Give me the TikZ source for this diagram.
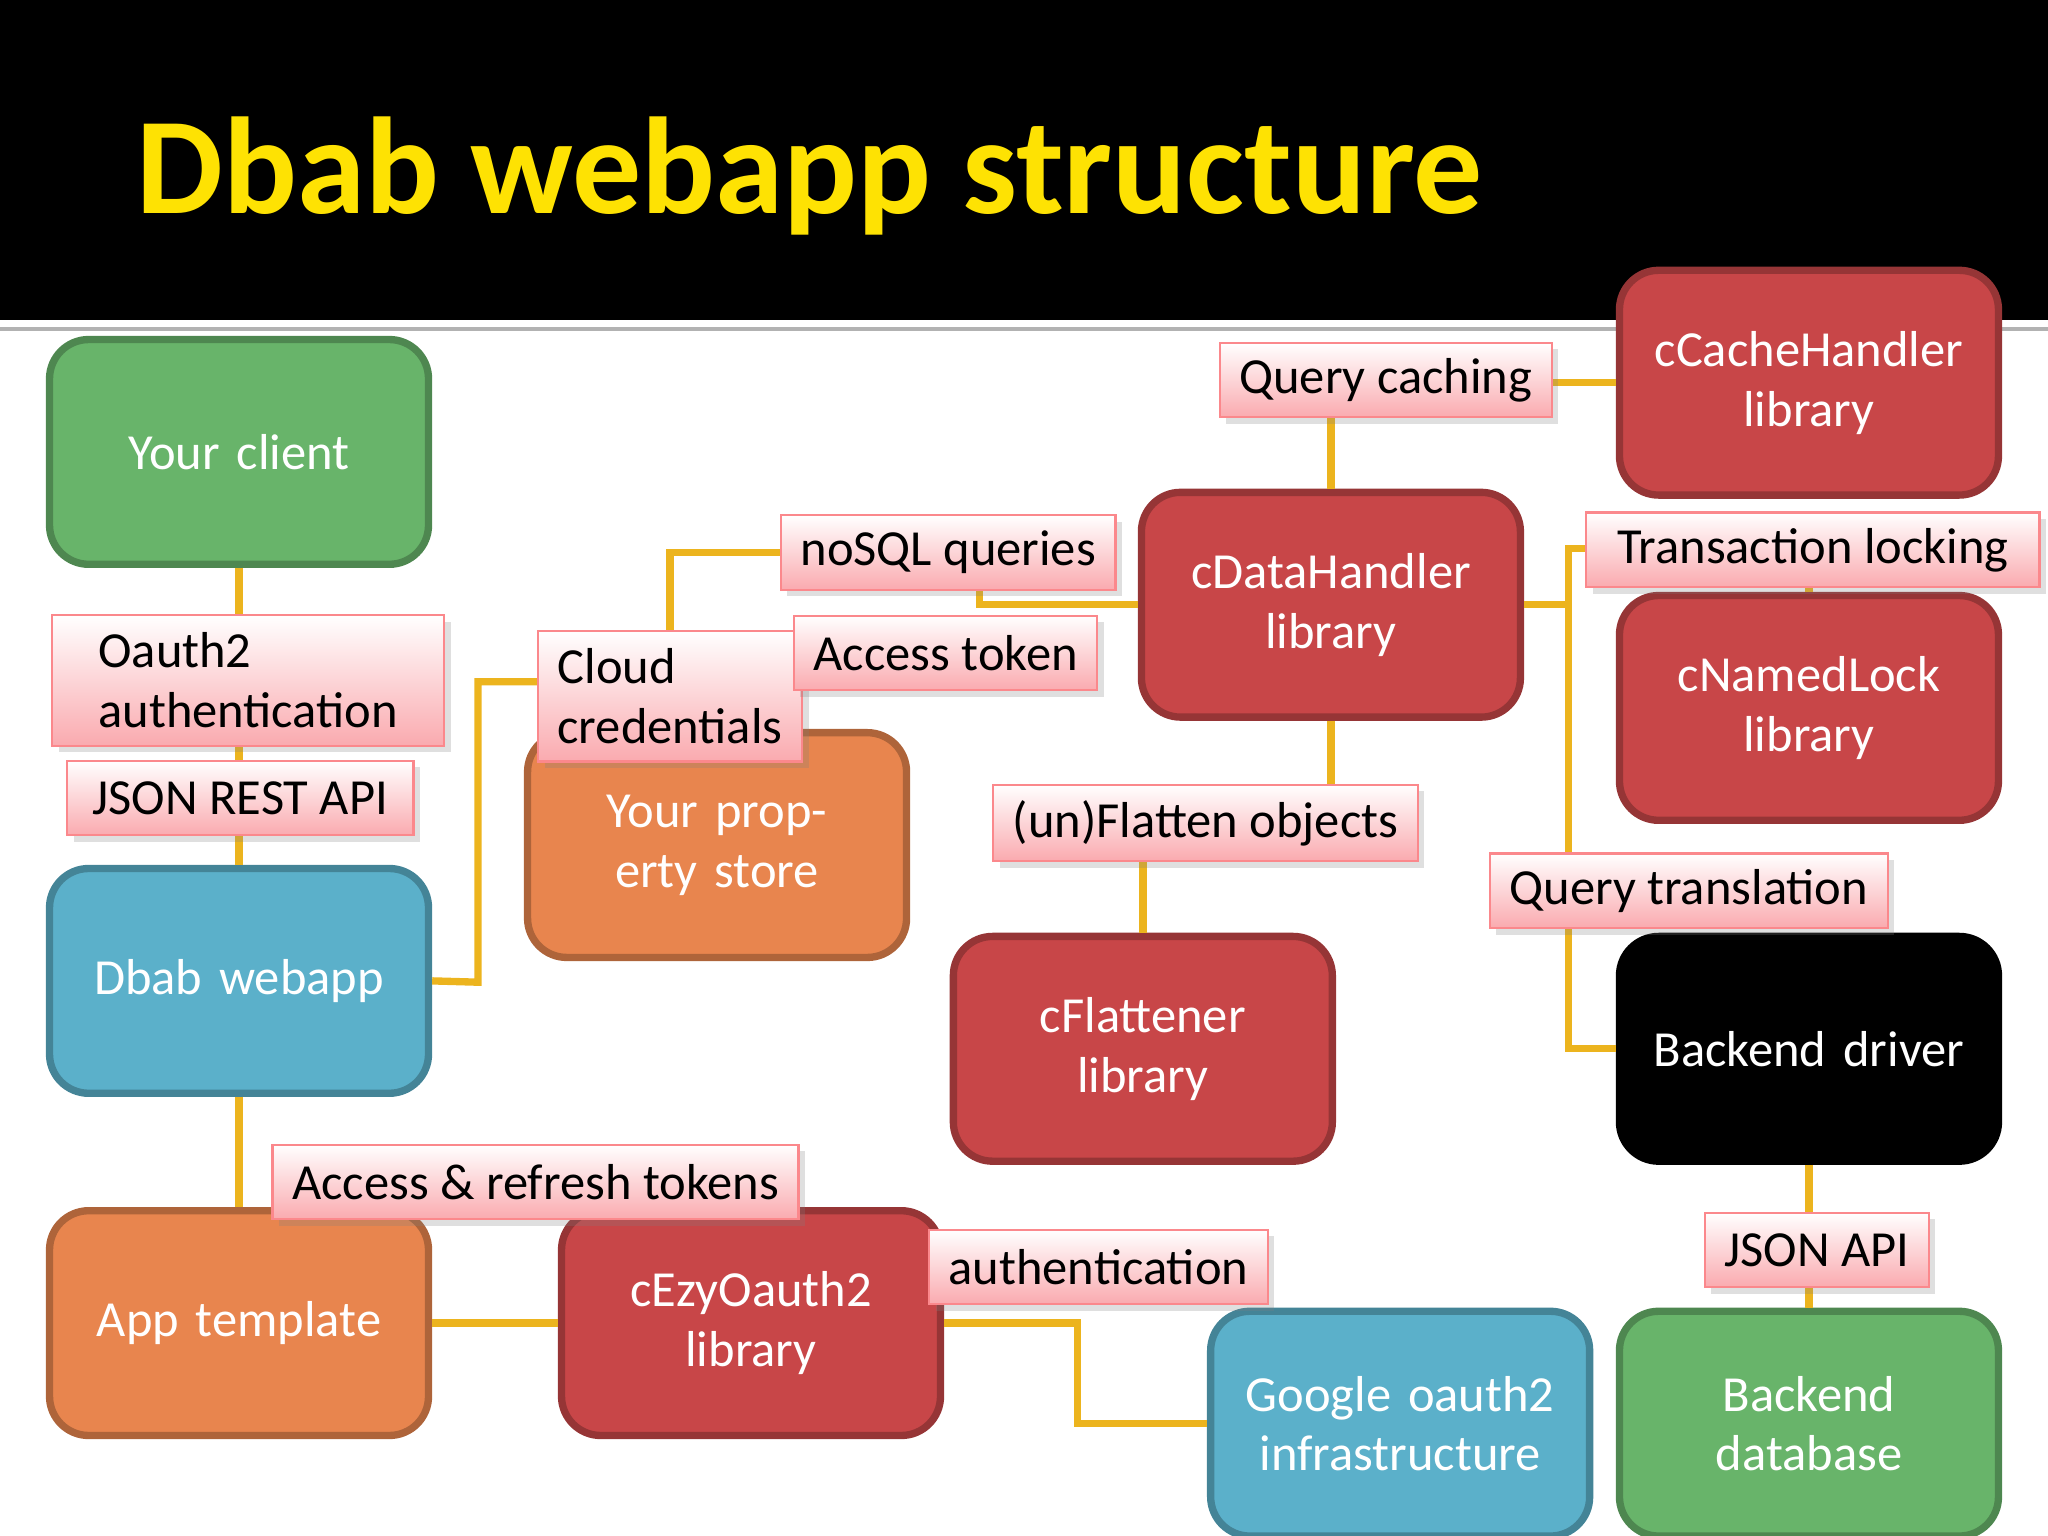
\documentclass[tikz,border=0pt]{standalone}
\usepackage{fontspec}
\setmainfont{Carlito}
\usetikzlibrary{positioning,shadows}
\definecolor{boxred}{RGB}{200,70,72}
\definecolor{boxgreen}{RGB}{104,180,106}
\definecolor{boxblue}{RGB}{91,176,202}
\definecolor{boxorange}{RGB}{232,133,78}
\definecolor{linkgold}{RGB}{236,180,30}
\definecolor{tagpink}{RGB}{250,170,175}
\tikzset{
  block/.style={draw=#1!75!black, fill=#1, line width=1.6pt, rounded corners=0.3cm,
    minimum width=2.9cm, minimum height=1.72cm, text width=2.6cm, align=center,
    text=white, font=\fontsize{11}{13}\selectfont},
  tag/.style={draw=tagpink!80!red, top color=white, bottom color=tagpink, line width=0.5pt,
    drop shadow={opacity=0.25, shadow xshift=0.5mm, shadow yshift=-0.5mm},
    inner xsep=0.15cm, minimum height=0.57cm, align=left, font=\fontsize{11}{13}\selectfont},
  link/.style={draw=linkgold, line width=1.6pt}
}
\begin{document}
\begin{tikzpicture}[x=0.01cm, y=-0.01cm]
\useasboundingbox (0,0) rectangle (1568,1176);
% banner
\fill[black] (0,0) rectangle (1568,245);
\draw[gray!60, line width=1pt] (0,252) -- (1568,252);
\node[anchor=west, text=yellow!85!orange, font=\fontsize{30}{34}\bfseries\selectfont] (title) at (92,135) {Dbab webapp structure};

% Blocks
\node[block=boxgreen] (client) at (183,346) {Your client};
\node[block=boxblue] (webapp) at (183,751) {Dbab  webapp};
\node[block=boxorange] (apptpl) at (183,1013) {App template};
\node[block=boxred] (ezy) at (575,1013) {cEzyOauth2 library};
\node[block=boxblue] (google) at (1072,1090) {Google oauth2 infrastructure};
\node[block=boxorange] (store) at (549,647) {Your property store};
\node[block=boxred] (data) at (1019,463) {cDataHandler library};
\node[block=boxred] (cache) at (1385,293) {cCacheHandler library};
\node[block=boxred] (lock) at (1385,542) {cNamedLock library};
\node[block=boxred] (flat) at (875,803) {cFlattener library};
\node[block=black] (driver) at (1385,803) {Backend driver};
\node[block=boxgreen] (db) at (1385,1090) {Backend database};

% Connectors
\draw[link] (client) -- (webapp);
\draw[link] (webapp) -- (apptpl);
\draw[link] (apptpl) -- (ezy);
\draw[link] (ezy.east) -- (825,1013) |- (google.west);
\draw[link] (webapp.east) -- (366,752) |- (418,522) coordinate (cc);
\draw[link] (513,500) |- (603,423) coordinate (nq);
\draw[link] (750,440) |- (data.west);
\draw[link] (data.north) -- (1019,300);
\draw[link] (1150,293) -- (cache.west);
\draw[link] (data.south) -- (1019,620);
\draw[link] (875,640) -- (flat.north);
\draw[link] (data.east) -- (1201,463) |- (1230,420);
\draw[link] (1201,463) |- (driver.west);
\draw[link] (lock.north) -- (1385,440);
\draw[link] (driver.south) -- (db.north);

% Tags
\node[tag, minimum width=3cm, minimum height=1cm] (oauth) at (190,521) {Oauth2\\authentication};
\node[tag, minimum width=2.65cm] (rest) at (184,611) {JSON  REST API};
\node[tag, minimum width=3.76cm] (tokens) at (410,905) {Access \& refresh tokens};
\node[tag, minimum width=2.43cm] (authtag) at (841,970) {authentication};
\node[tag, minimum width=1.91cm, minimum height=1cm] (cloud) at (513,533) {Cloud\\credentials};
\node[tag, minimum width=2.46cm] (nosql) at (726,423) {noSQL queries};
\node[tag, minimum width=2.21cm] (atoken) at (724,500) {Access token};
\node[tag, minimum width=2.42cm] (qcache) at (1061,291) {Query caching};
\node[tag, minimum width=3.47cm] (tlock) at (1388,421) {Transaction locking};
\node[tag, minimum width=3.05cm] (unflat) at (923,630) {(un)Flatten objects};
\node[tag, minimum width=2.86cm] (qtrans) at (1293,682) {Query translation};
\node[tag, minimum width=1.71cm] (japi) at (1391,957) {JSON API};
\end{tikzpicture}
\end{document}
